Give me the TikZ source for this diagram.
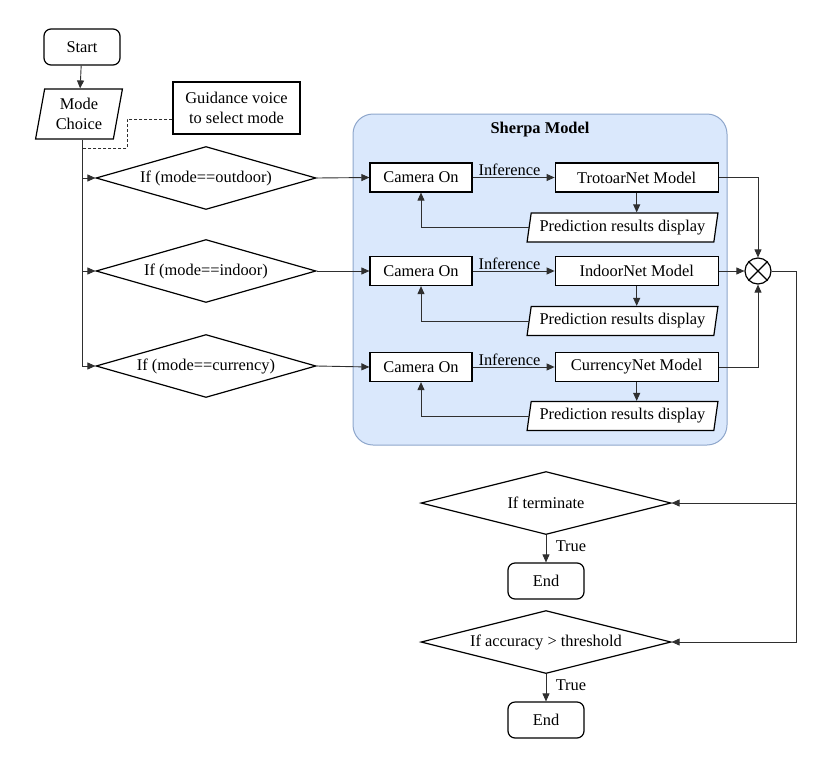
\documentclass[tikz,border=0pt]{standalone}
\usepackage{fontspec}
\setmainfont{Liberation Serif}
\usetikzlibrary{positioning,arrows.meta,shapes.geometric,calc}
\definecolor{panelfill}{HTML}{DAE8FC}
\definecolor{panelline}{HTML}{8EA6CB}
\definecolor{linkgray}{HTML}{2F2F2F}

\begin{document}
\begin{tikzpicture}[x=1pt, y=-1pt, font=\fontsize{16.4}{20}\selectfont,
    box/.style={draw, line width=1.2pt, minimum height=29pt, inner sep=2pt, fill=white},
    terminal/.style={draw, line width=1.2pt, rounded corners=7pt, minimum width=76pt, minimum height=36pt},
    decision/.style={draw, line width=1.2pt, diamond, aspect=4, inner sep=0pt},
    io/.style={draw, line width=1.2pt, trapezium, trapezium left angle=76, trapezium right angle=104, trapezium stretches=true, inner sep=0pt, fill=white},
    panel/.style={draw=panelline, line width=1pt, fill=panelfill, rounded corners=20pt},
    wire/.style={draw=linkgray, line width=0.9pt},
    arr/.style={wire, -{Triangle[length=8pt,width=7pt]}}]
  \useasboundingbox (0,0) rectangle (833,777);

  % container
  \node[panel, minimum width=374pt, minimum height=331pt] (sherpa) at (540,279.5) {};
  \node (sherpatitle) at (540,130) {\textbf{Sherpa Model}};

  % left column
  \node[terminal] (start) at (82,47) {Start};
  \node[io, trapezium left angle=79, trapezium right angle=101, minimum width=87pt, minimum height=50pt, align=center] (mode) at (79,114) {Mode\\Choice};
  \node[box, minimum width=127pt, minimum height=52pt, align=center] (guide) at (236.5,108) {Guidance voice\\to select mode};
  \node[decision, minimum width=220pt, minimum height=63pt] (outdoor) at (206,178) {If (mode==outdoor)};
  \node[decision, minimum width=220pt, minimum height=63pt] (indoor) at (206,271) {If (mode==indoor)};
  \node[decision, minimum width=220pt, minimum height=63pt] (currency) at (206,366) {If (mode==currency)};
  \coordinate (tap) at (82,148);

  % model rows
  \node[box, minimum width=102pt] (cam1) at (421,177.5) {Camera On};
  \node[box, minimum width=163pt, right=82pt of cam1] (net1) {TrotoarNet Model};
  \node[io, minimum width=191pt, minimum height=29pt] (pred1) at (622.5,227.5) {Prediction results display};

  \node[box, minimum width=102pt] (cam2) at (421,271) {Camera On};
  \node[box, minimum width=163pt, right=82pt of cam2] (net2) {IndoorNet Model};
  \node[io, minimum width=191pt, minimum height=29pt] (pred2) at (622.5,321) {Prediction results display};

  \node[box, minimum width=102pt] (cam3) at (421,367) {Camera On};
  \node[box, minimum width=163pt, right=82pt of cam3] (net3) {CurrencyNet Model};
  \node[io, minimum width=191pt, minimum height=29pt] (pred3) at (622.5,416) {Prediction results display};

  % combiner and checks
  \node[draw, circle, line width=1.2pt, minimum size=26pt, inner sep=0pt] (sum) at (758,271) {};
  \draw[line width=1.2pt] (sum.north west) -- (sum.south east) (sum.north east) -- (sum.south west);
  \coordinate (bus) at (796,271);
  \node[decision, minimum width=250pt, minimum height=63pt] (terminate) at (546,503) {If terminate};
  \node[terminal] (end1) at (546,581) {End};
  \node[decision, minimum width=250pt, minimum height=63pt] (threshold) at (546,642) {If accuracy > threshold};
  \node[terminal] (end2) at (546,720) {End};

  % connectors
  \draw[arr] (start) -- (mode);
  \draw[wire] (mode.south -| start) -- (start |- currency.west);
  \draw[wire, dash pattern=on 3pt off 2pt] ([yshift=-11pt]guide.west) -- ++(-45,0) |- (tap);
  \draw[arr] (start |- outdoor.west) -- (outdoor.west);
  \draw[arr] (start |- indoor.west) -- (indoor.west);
  \draw[arr] (start |- currency.west) -- (currency.west);

  \draw[arr] (outdoor.east) -- (cam1.west);
  \draw[arr] (indoor.east) -- (cam2.west);
  \draw[arr] (currency.east) -- (cam3.west);

  \draw[arr] (cam1) -- node[above, inner sep=1pt, pos=0.45] (inf1) {Inference} (net1);
  \draw[arr] (cam2) -- node[above, inner sep=1pt, pos=0.45] (inf2) {Inference} (net2);
  \draw[arr] (cam3) -- node[above, inner sep=1pt, pos=0.45] (inf3) {Inference} (net3);

  \draw[arr] (net1.south) -- (net1.south |- pred1.north);
  \draw[arr] (net2.south) -- (net2.south |- pred2.north);
  \draw[arr] (net3.south) -- (net3.south |- pred3.north);
  \draw[arr] (pred1.west) -| (cam1.south);
  \draw[arr] (pred2.west) -| (cam2.south);
  \draw[arr] (pred3.west) -| (cam3.south);

  \draw[arr] (net1.east) -| (sum.north);
  \draw[arr] (net2.east) -- (sum.west);
  \draw[arr] (net3.east) -| (sum.south);
  \draw[arr] (sum.east) -- (bus) |- (terminate.east);
  \draw[arr] (bus) |- (threshold.east);

  \draw[arr] (terminate) -- node[right, pos=0.4, xshift=6pt] (true1) {True} (end1);
  \draw[arr] (threshold) -- node[right, pos=0.4, xshift=6pt] (true2) {True} (end2);
\end{tikzpicture}
\end{document}
